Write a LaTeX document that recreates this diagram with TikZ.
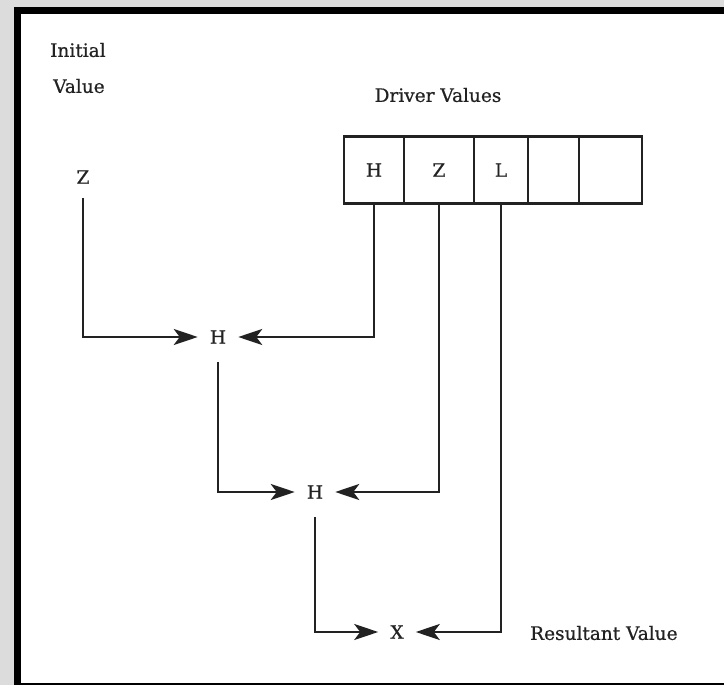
\documentclass[tikz,border=0pt]{standalone}
\usepackage{fontspec}
\setmainfont{DejaVu Serif}[FakeBold=0.6]
\usetikzlibrary{arrows.meta}
\definecolor{bggray}{HTML}{DCDCDC}
\definecolor{inkc}{HTML}{222222}
\begin{document}
\begin{tikzpicture}[x=1pt,y=-1pt,
  txt/.style={font=\fontsize{18.5}{22}\selectfont, text=inkc},
  lbl/.style={txt, inner sep=0pt},
  letter/.style={txt, inner xsep=12pt, inner ysep=14pt},
  cell/.style={txt, draw=inkc, line width=2.6pt, minimum height=67pt, inner sep=0pt},
  conn/.style={draw=inkc, line width=2.4pt, -{Stealth[length=24pt,width=16pt,inset=6pt]}},
]
\useasboundingbox (0,0) rectangle (724,685);
% frame
\fill[bggray] (0,0) rectangle (724,685);
\fill[white] (21,14) rectangle (724,683);
\fill[black] (14,7) rectangle (724,14);
\fill[black] (14,7) rectangle (21,685);
\fill[black] (14,683) rectangle (724,685);
% labels
\node[lbl, anchor=west] (init) at (50,50) {Initial};
\node[lbl, anchor=west] (val) at (53,86) {Value};
\node[lbl] (drv) at (438,95) {Driver Values};
\node[lbl, anchor=west] (res) at (530,633) {Resultant Value};
% driver value cells
\node[cell, minimum width=60pt] (c1) at (374,170) {\raisebox{-3pt}{H}};
\node[cell, minimum width=70pt] (c2) at (439,170) {\raisebox{-3pt}{Z}};
\node[cell, minimum width=54pt] (c3) at (501,170) {\raisebox{-3pt}{L}};
\node[cell, minimum width=51pt] (c4) at (553.5,170) {};
\node[cell, minimum width=63pt] (c5) at (610.5,170) {};
% values
\node[letter] (z0) at (83,177) {Z};
\node[letter, inner ysep=18pt] (h1) at (218,337) {H};
\node[letter, inner ysep=18pt] (h2) at (315,492) {H};
\node[letter] (x) at (397,632) {X};
% connectors
\draw[conn] (z0.south) |- (h1.west);
\draw[conn] (c1.south) |- (h1.east);
\draw[conn] (h1.south) |- (h2.west);
\draw[conn] (c2.south) |- (h2.east);
\draw[conn] (h2.south) |- (x.west);
\draw[conn] (c3.south) |- (x.east);
\end{tikzpicture}
\end{document}
